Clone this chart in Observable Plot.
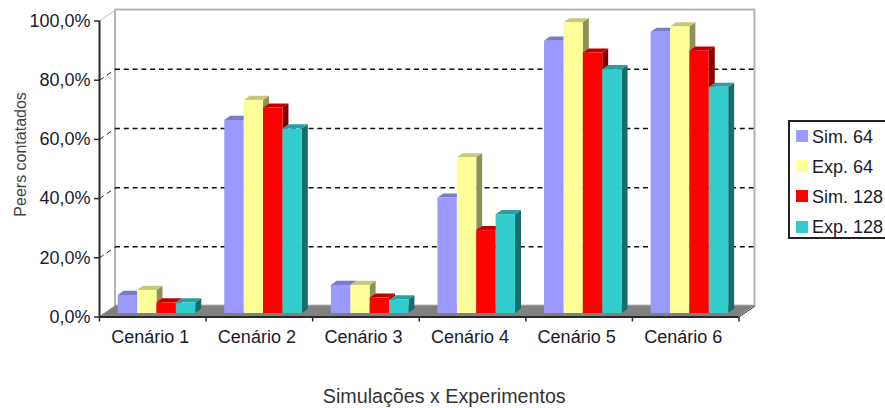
<!DOCTYPE html>
<html><head><meta charset="utf-8">
<script src="https://cdn.jsdelivr.net/npm/d3@7"></script>
<script src="https://cdn.jsdelivr.net/npm/@observablehq/plot@0.6"></script>
<style>
html,body{margin:0;padding:0;background:#fff;overflow:hidden;width:885px;height:408px}
#chart{position:relative;width:885px;height:408px;font-family:"Liberation Sans",Arial,sans-serif}
#legend{position:absolute;left:788px;top:120px;width:120px;height:115px;border:2px solid #222;background:#fff;box-sizing:content-box}
#legend .s{position:absolute;left:6px;width:11.5px;height:12px}
#legend .t{position:absolute;left:22px;font-size:18px;line-height:20px;color:#1a1a2a;white-space:nowrap}
svg{display:block}
</style></head><body>
<div id="chart"></div>
<script>
const categories = ["Cenário 1","Cenário 2","Cenário 3","Cenário 4","Cenário 5","Cenário 6"];
const seriesNames = ["Sim. 64","Exp. 64","Sim. 128","Exp. 128"];
const sim64   = [6.1, 65.2, 9.5, 39.0, 92.0, 95.0];
const exp64   = [7.8, 72.0, 9.5, 52.6, 98.2, 96.8];
const sim128  = [3.6, 69.4, 5.2, 28.0, 88.0, 88.6];
const exp128  = [3.6, 62.4, 4.6, 33.4, 82.4, 76.4];
const seriesValues = [sim64, exp64, sim128, exp128];
const yTicks = [0,20,40,60,80,100];
const gridTicks = [20,40,60,80];
const frontColors = ["#9999ff","#ffff99","#ff0000","#33cccc"];
const topColors   = ["#7a7acc","#c8c87a","#c00000","#2a9f9f"];
const sideColors  = ["#6b6bb3","#8f8f5a","#800000","#1c6b6b"];

// 3-D look, in data units
const wallX = 0.15, wallY = 3.7;     // depth of the floor
const barX = 0.056, barY = 1.4;      // depth of each bar
const groupStart = 0.134, barW = 0.182;
const shift = {dx: 4.4, dy: -3.5};   // bars stand inside the floor

const floorPts = [{y:0,x1:0,x2:6},{y:wallY,x1:wallX,x2:6+wallX}];
const barMarks = seriesValues.flatMap((vals,s)=>{
  const left = i=>i+groupStart+s*barW, right = i=>left(i)+barW;
  const side = vals.flatMap((v,i)=>[
    {c:i,x:right(i),y1:0,y2:v},
    {c:i,x:right(i)+barX,y1:barY,y2:v+barY}]);
  const top = vals.flatMap((v,i)=>[
    {c:i,y:v,x1:left(i),x2:right(i)},
    {c:i,y:v+barY,x1:left(i)+barX,x2:right(i)+barX}]);
  return [
    Plot.area(side,{x1:"x",y1:"y1",y2:"y2",z:"c",fill:sideColors[s],...shift}),
    Plot.area(top,{y1:"y",x1:"x1",x2:"x2",z:"c",fill:topColors[s],...shift}),
    Plot.rect(vals,{x1:(d,i)=>left(i),x2:(d,i)=>right(i),y1:0,y2:d=>d,fill:frontColors[s],...shift})
  ];
});
const ink = "#2a2a2a";
const plot = Plot.plot({
  width:885,height:408,
  marginLeft:99,marginRight:146.5,marginTop:20.5,marginBottom:91.5,
  style:{fontFamily:'"Liberation Sans",Arial,sans-serif',fontSize:"18px",background:"#fff",color:"#1a1a2a"},
  x:{type:"linear",domain:[0,6],axis:null},
  y:{domain:[0,100],axis:null},
  marks:[
    Plot.rect([0],{x1:wallX,x2:6+wallX,y1:wallY,y2:100+wallY,fill:"#fff",stroke:"#b4b4b4",strokeWidth:2}),
    Plot.area(floorPts,{y1:"y",x1:"x1",x2:"x2",fill:"#808080"}),
    Plot.link([100],{x1:0,y1:d=>d,x2:wallX,y2:d=>d+wallY,stroke:"#c0c0c0",strokeWidth:1}),
    Plot.link([0],{x1:6,y1:d=>d,x2:6+wallX,y2:d=>d+wallY,stroke:"#333",strokeWidth:1}),
    Plot.link(gridTicks,{x1:0,y1:d=>d,x2:wallX,y2:d=>d+wallY,stroke:"#222",strokeDasharray:"5,4"}),
    Plot.ruleY(gridTicks,{x1:wallX,x2:6+wallX,y:d=>d+wallY,stroke:"#111",strokeWidth:1.5,strokeDasharray:"5,3.8"}),
    ...barMarks,
    Plot.ruleY([0],{x1:0,x2:6,stroke:ink,strokeWidth:2}),
    Plot.ruleX([0],{y1:0,y2:100,stroke:ink,strokeWidth:2}),
    Plot.axisY({ticks:yTicks,tickSize:5,tickPadding:4,stroke:ink,strokeWidth:1.5,label:null,tickFormat:d=>d.toFixed(1).replace(".",",")+"%"}),
    Plot.axisX({ticks:d3.range(7),tickSize:5,tickFormat:()=>"",stroke:ink,strokeWidth:1.5,label:null}),
    Plot.axisX({ticks:categories.map((c,i)=>i+0.5),tickSize:0,tickPadding:13,dx:-2.5,tickFormat:d=>categories[d-0.5],label:null}),
    Plot.text(["Peers contatados"],{frameAnchor:"left",textAnchor:"middle",rotate:-90,dx:-79,dy:-14.6,fontSize:16,fill:"#444"}),
    Plot.text(["Simulações x Experimentos"],{frameAnchor:"bottom",textAnchor:"middle",dy:86,dx:25,fontSize:19.7,fill:"#333"})
  ]
});
const chart = document.getElementById("chart");
chart.appendChild(plot);
const legend = document.createElement("div");
legend.id = "legend";
const swatchTops = [8,38,68,99], textTops = [5,35,65,95];
seriesNames.forEach((n,i)=>{
  const s = document.createElement("div"); s.className="s"; s.style.top=swatchTops[i]+"px"; s.style.background=frontColors[i];
  const t = document.createElement("div"); t.className="t"; t.style.top=textTops[i]+"px"; t.textContent=n;
  legend.append(s,t);
});
chart.appendChild(legend);
</script>
</body></html>
